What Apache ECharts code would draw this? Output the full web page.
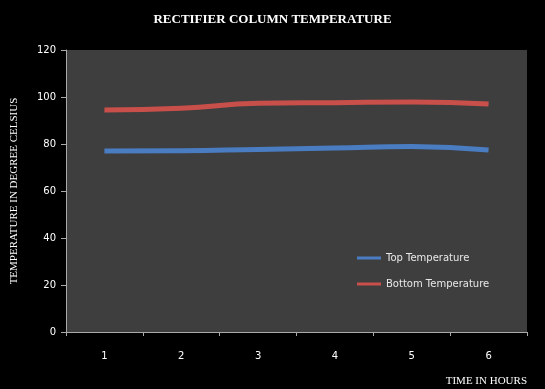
<!DOCTYPE html>
<html><head><meta charset="utf-8">
<script src="https://cdn.jsdelivr.net/npm/echarts@6/dist/echarts.min.js"></script>
<style>html,body{margin:0;padding:0;background:#000;}#c{width:545px;height:389px;}</style>
</head><body><div id="c"></div>
<script>
var hours = ['1','2','3','4','5','6'];
var topTemp = [77.0, 77.1, 77.7, 78.3, 78.9, 77.4];
var bottomTemp = [94.5, 95.2, 97.3, 97.6, 97.9, 97.0];
var chart = echarts.init(document.getElementById('c'));
chart.setOption({
  backgroundColor: '#000',
  animation: false,
  title: {
    text: 'RECTIFIER COLUMN TEMPERATURE',
    left: 'center', top: 8,
    textStyle: {color: '#fff', fontFamily: 'Liberation Serif', fontWeight: 'bold', fontSize: 13}
  },
  grid: {left: 66, right: 18, top: 50, bottom: 57, show: true, backgroundColor: '#3e3e3e', borderWidth: 0, outerBoundsMode: 'none', containLabel: false},
  legend: {
    orient: 'vertical', left: 352, top: 248, itemWidth: 24, itemHeight: 3, itemGap: 16,
    icon: 'rect',
    textStyle: {color: '#e8e8e8', fontFamily: 'DejaVu Sans', fontSize: 10},
    data: ['Top Temperature', 'Bottom Temperature']
  },
  xAxis: {
    type: 'category', data: hours, boundaryGap: true,
    name: 'TIME IN HOURS', nameLocation: 'end', nameGap: 0,
    nameTextStyle: {color: '#fff', fontFamily: 'Liberation Serif', fontSize: 11, align: 'right', verticalAlign: 'top', padding: [44, 0, 0, 0]},
    axisLine: {lineStyle: {color: '#aaa', width: 1}},
    axisTick: {show: true, length: 4, lineStyle: {color: '#aaa'}},
    axisLabel: {color: '#fff', fontFamily: 'DejaVu Sans', fontSize: 10, margin: 19}
  },
  yAxis: {
    type: 'value', min: 0, max: 120, interval: 20,
    name: 'TEMPERATURE IN DEGREE CELSIUS', nameLocation: 'middle', nameGap: 46, nameRotate: 90,
    nameTextStyle: {color: '#fff', fontFamily: 'Liberation Serif', fontSize: 11},
    axisLine: {show: true, lineStyle: {color: '#aaa', width: 1}},
    axisTick: {show: true, length: 5, lineStyle: {color: '#aaa'}},
    axisLabel: {color: '#fff', fontFamily: 'DejaVu Sans', fontSize: 10, margin: 10},
    splitLine: {show: false}
  },
  series: [
    {name: 'Top Temperature', type: 'line', data: topTemp, smooth: true, showSymbol: false,
     color: '#4a7cc2', lineStyle: {width: 5, color: '#4a7cc2'}},
    {name: 'Bottom Temperature', type: 'line', data: bottomTemp, smooth: true, showSymbol: false,
     color: '#c94f4b', lineStyle: {width: 5, color: '#c94f4b'}}
  ]
});
</script></body></html>
